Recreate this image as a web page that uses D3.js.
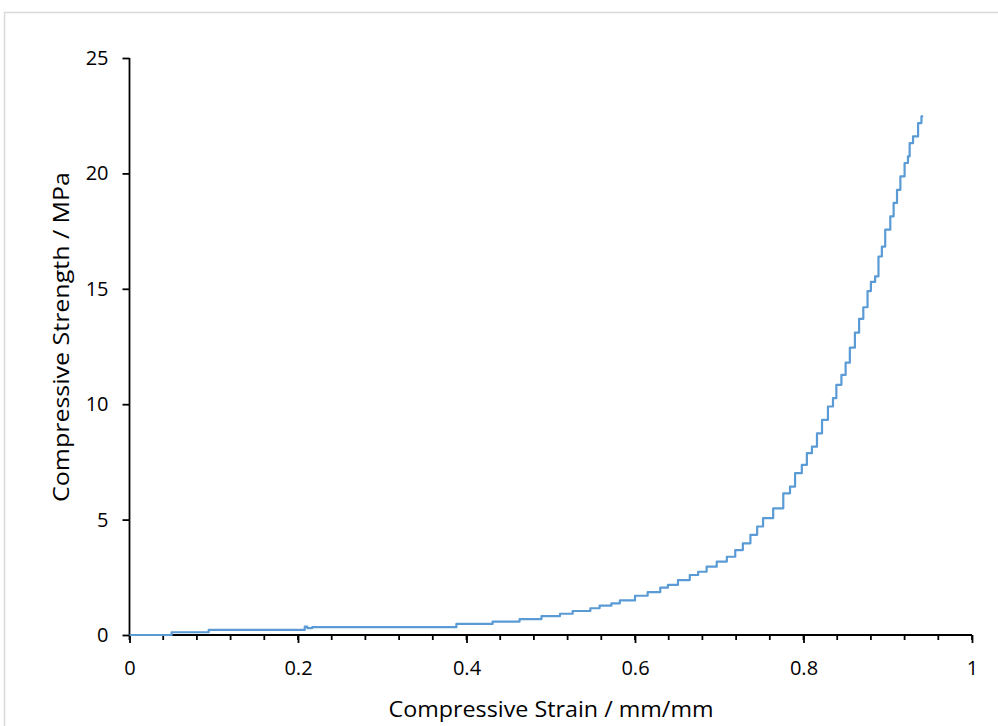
<!DOCTYPE html>
<html>
<head>
<meta charset="utf-8">
<script src="https://cdn.jsdelivr.net/npm/d3@7"></script>
<style>
  html, body { margin: 0; padding: 0; background: #fff; }
  svg { display: block; }
  text { font-family: "Open Sans", Lato, sans-serif; fill: #000; }
</style>
</head>
<body>
<svg id="chart" width="998" height="726"></svg>
<script>
// Stress–strain record of the compression test (strain in mm/mm, stress in MPa)
const strain = [0, 0.05, 0.094, 0.208, 0.211, 0.217, 0.388, 0.431, 0.463, 0.489, 0.511, 0.526,
  0.547, 0.558, 0.572, 0.582, 0.600, 0.615, 0.630, 0.639, 0.651, 0.665, 0.675, 0.685, 0.697,
  0.709, 0.719, 0.728, 0.737, 0.745, 0.752, 0.764, 0.776, 0.784, 0.790, 0.798, 0.804, 0.810,
  0.816, 0.822, 0.829, 0.835, 0.839, 0.845, 0.850, 0.855, 0.861, 0.866, 0.871, 0.876, 0.880,
  0.885, 0.889, 0.893, 0.897, 0.903, 0.907, 0.911, 0.915, 0.920, 0.924, 0.926, 0.930, 0.936,
  0.940, 0.942];
const stress = [0, 0.12, 0.22, 0.36, 0.30, 0.34, 0.48, 0.58, 0.69, 0.82, 0.92, 1.04,
  1.16, 1.27, 1.37, 1.50, 1.70, 1.86, 2.05, 2.17, 2.38, 2.60, 2.74, 2.96, 3.18,
  3.39, 3.68, 3.97, 4.34, 4.70, 5.06, 5.49, 6.14, 6.43, 7.01, 7.37, 7.88, 8.16,
  8.74, 9.32, 9.90, 10.26, 10.84, 11.27, 11.80, 12.45, 13.10, 13.70, 14.20, 14.90, 15.30,
  15.54, 16.40, 16.83, 17.56, 18.14, 18.72, 19.29, 19.87, 20.45, 20.74, 21.31, 21.60, 22.18,
  22.47, 22.47];

const xMajorTicks = [0, 0.2, 0.4, 0.6, 0.8, 1];
const xMinorTicks = d3.range(0, 1.0001, 0.04);
const yTicks = [0, 5, 10, 15, 20, 25];

const xTitle = "Compressive Strain / mm/mm";
const yTitle = "Compressive Strength / MPa";

const svg = d3.select("#chart");
const W = 998, H = 726;
const plot = { left: 129.5, right: 972, top: 58, bottom: 635 };

// chart area border
svg.append("rect")
  .attr("x", 4.5).attr("y", 12.5)
  .attr("width", W + 20).attr("height", H + 20)
  .attr("fill", "none").attr("stroke", "#d9d9d9").attr("stroke-width", 1.5);

const x = d3.scaleLinear().domain([0, 1]).range([plot.left, plot.right]);
const y = d3.scaleLinear().domain([0, 25]).range([plot.bottom, plot.top]);

// y axis
const yAxis = svg.append("g")
  .attr("transform", `translate(${plot.left},0)`)
  .call(d3.axisLeft(y).tickValues(yTicks).tickSize(7).tickPadding(14).tickFormat(d3.format("d")));
yAxis.select(".domain").attr("stroke", "#000").attr("stroke-width", 1.8)
  .attr("d", `M0,${plot.bottom}V${plot.top}`);
yAxis.selectAll(".tick line").attr("stroke", "#000").attr("stroke-width", 1.8);
yAxis.selectAll(".tick text").attr("font-size", 20).attr("font-family", null);

// x axis: minor ticks
svg.append("g").selectAll("line")
  .data(xMinorTicks)
  .join("line")
  .attr("x1", d => x(d)).attr("x2", d => x(d))
  .attr("y1", plot.bottom).attr("y2", plot.bottom + 5)
  .attr("stroke", "#000").attr("stroke-width", 1.8);

const xAxis = svg.append("g")
  .attr("transform", `translate(0,${plot.bottom})`)
  .call(d3.axisBottom(x).tickValues(xMajorTicks).tickSize(8).tickPadding(18)
    .tickFormat(d => d3.format("")(+d.toFixed(1))));
xAxis.select(".domain").attr("stroke", "#000").attr("stroke-width", 1.8)
  .attr("d", `M${plot.left},0H${plot.right}`);
xAxis.selectAll(".tick line").attr("stroke", "#000").attr("stroke-width", 1.8);
xAxis.selectAll(".tick text").attr("font-size", 20).attr("font-family", null);

// the stress–strain curve (recorded as a staircase by the test machine)
const pts = strain.map((s, i) => [s, stress[i]]);
const line = d3.line()
  .x(d => x(d[0]))
  .y(d => y(d[1]))
  .curve(d3.curveStepAfter);
svg.append("path")
  .datum(pts)
  .attr("d", line)
  .attr("fill", "none")
  .attr("stroke", "#5b9bd5")
  .attr("stroke-width", 2.2)
  .attr("stroke-linejoin", "round");

// axis titles
svg.append("text")
  .attr("x", 551).attr("y", 717)
  .attr("text-anchor", "middle")
  .attr("font-size", 21)
  .attr("textLength", 325).attr("lengthAdjust", "spacingAndGlyphs")
  .text(xTitle);

svg.append("text")
  .attr("transform", `translate(69,${337}) rotate(-90)`)
  .attr("text-anchor", "middle")
  .attr("font-size", 21)
  .attr("textLength", 330).attr("lengthAdjust", "spacingAndGlyphs")
  .text(yTitle);
</script>
</body>
</html>
